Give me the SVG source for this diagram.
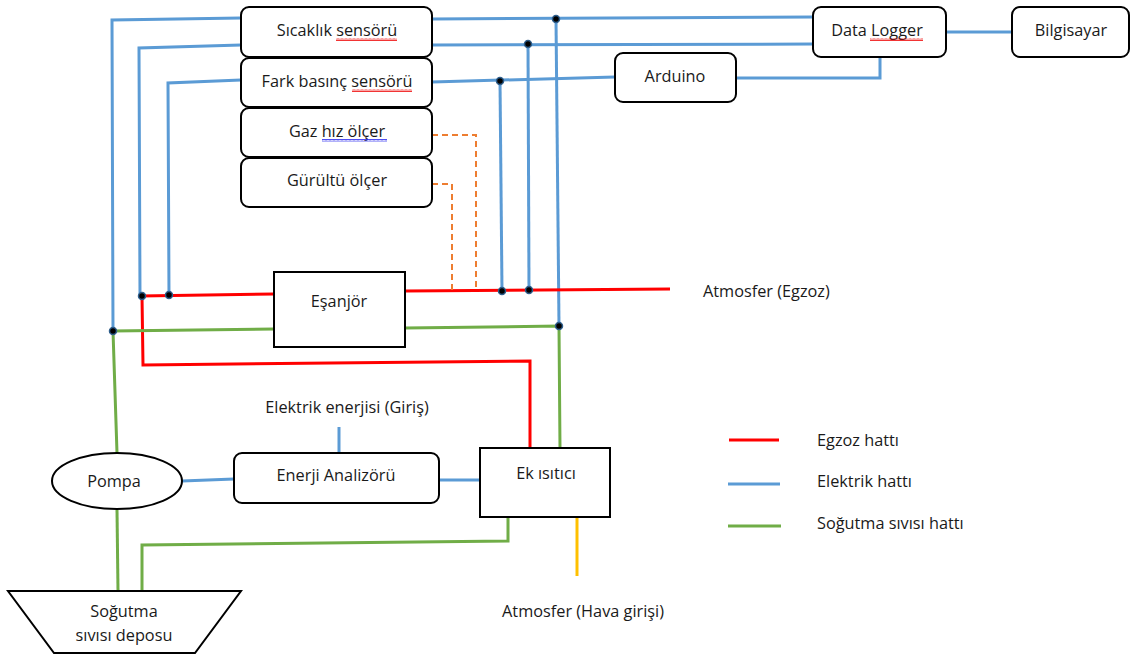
<svg xmlns="http://www.w3.org/2000/svg" width="1131" height="655" viewBox="0 0 1131 655">
<defs>
<style>
.box{fill:#fff;stroke:#000;stroke-width:2}
.t{font-family:"Open Sans","Liberation Sans",sans-serif;font-size:16.3px;fill:#1a1a1a;text-anchor:middle}
.tl{font-family:"Open Sans","Liberation Sans",sans-serif;font-size:16.3px;fill:#1a1a1a}
.b{fill:none;stroke:#5B9BD5;stroke-width:3}
.r{fill:none;stroke:#FF0000;stroke-width:3}
.g{fill:none;stroke:#70AD47;stroke-width:3}
.y{fill:none;stroke:#FFC000;stroke-width:3}
.o{fill:none;stroke:#ED7D31;stroke-width:2;stroke-dasharray:6 4}
.dot{fill:#000;stroke:#2E5E8C;stroke-width:1.5}
</style>
<pattern id="wr" width="4" height="3" patternUnits="userSpaceOnUse"><polyline points="0,2.5 1,0.5 2,2.5 3,0.5 4,2.5" fill="none" stroke="#E00" stroke-width="0.8"/></pattern>
<pattern id="wb" width="4" height="3" patternUnits="userSpaceOnUse"><polyline points="0,2.5 1,0.5 2,2.5 3,0.5 4,2.5" fill="none" stroke="#22E" stroke-width="0.8"/></pattern>
</defs>
<rect width="1131" height="655" fill="#fff"/>

<g id="connectors">
<polyline class="b" points="241,18 112,20 113,331"/>
<polyline class="b" points="241,45 139,48 140,296"/>
<polyline class="b" points="241,80 168,83 169,296"/>
<polyline class="b" points="432,19 813,17"/>
<polyline class="b" points="556,19 559,326"/>
<polyline class="b" points="432,45 813,44"/>
<polyline class="b" points="528,44 529,290"/>
<polyline class="b" points="432,82 615,77"/>
<polyline class="b" points="500,81 502,291"/>
<polyline class="b" points="736,78 880,78 880,57"/>
<polyline class="b" points="946,32 1012,32"/>
<polyline class="b" points="339,427 339,453"/>
<polyline class="b" points="182,481 234,479"/>
<polyline class="b" points="439,480 480,480"/>
<polyline class="r" points="140,296 274,294"/>
<polyline class="r" points="405,291 670,289"/>
<polyline class="r" points="142,296 143,365 530,361 530,448"/>
<polyline class="g" points="117,453 113,331 274,329"/>
<polyline class="g" points="405,328 559,326 560,448"/>
<polyline class="g" points="117,510 118,591"/>
<polyline class="g" points="142,591 142,545 508,541 508,517"/>
<polyline class="y" points="577,517 577,576"/>
<polyline class="o" points="432,135 476,135 476,291"/>
<polyline class="o" points="432,184 452,184 452,291"/>
<circle class="dot" cx="556" cy="19" r="3.5"/>
<circle class="dot" cx="528" cy="44" r="3.5"/>
<circle class="dot" cx="500" cy="81" r="3.5"/>
<circle class="dot" cx="142" cy="296" r="3.5"/>
<circle class="dot" cx="169" cy="295" r="3.5"/>
<circle class="dot" cx="502" cy="291" r="3.5"/>
<circle class="dot" cx="529" cy="290" r="3.5"/>
<circle class="dot" cx="113" cy="331" r="3.5"/>
<circle class="dot" cx="559" cy="326" r="3.5"/>
</g>

<g id="sicaklik">
<rect class="box" x="241" y="7" width="191" height="50" rx="8"/>
<text class="t" x="337" y="36">Sıcaklık sensörü</text>
<rect x="336" y="38" width="61" height="3" fill="url(#wr)"/>
</g>
<g id="fark">
<rect class="box" x="241" y="58" width="191" height="49" rx="8"/>
<text class="t" x="337" y="87">Fark basınç sensörü</text>
<rect x="352" y="89" width="60" height="3" fill="url(#wr)"/>
</g>
<g id="gaz">
<rect class="box" x="241" y="108" width="191" height="49" rx="8"/>
<text class="t" x="337" y="137">Gaz hız ölçer</text>
<rect x="322" y="139" width="65" height="3" fill="url(#wb)"/>
</g>
<g id="gurultu">
<rect class="box" x="241" y="158" width="191" height="49" rx="8"/>
<text class="t" x="337" y="186">Gürültü ölçer</text>
</g>
<g id="arduino">
<rect class="box" x="615" y="53" width="121" height="49" rx="8"/>
<text class="t" x="675" y="82">Arduino</text>
</g>
<g id="datalogger">
<rect class="box" x="813" y="7" width="133" height="50" rx="8"/>
<text class="t" x="877" y="36">Data Logger</text>
<rect x="870" y="38" width="53" height="3" fill="url(#wr)"/>
</g>
<g id="bilgisayar">
<rect class="box" x="1012" y="7" width="117" height="50" rx="8"/>
<text class="t" x="1071" y="36">Bilgisayar</text>
</g>
<g id="esanjor">
<rect class="box" x="274" y="272" width="131" height="75"/>
<text class="t" x="339" y="307">Eşanjör</text>
</g>
<g id="atm-egzoz">
<text class="tl" x="703" y="297">Atmosfer (Egzoz)</text>
</g>
<g id="elektrik-giris">
<text class="t" x="347" y="413">Elektrik enerjisi (Giriş)</text>
</g>
<g id="pompa">
<ellipse cx="117" cy="481" rx="65" ry="28" fill="#fff" stroke="#000" stroke-width="2"/>
<text class="t" x="114" y="487">Pompa</text>
</g>
<g id="enerji">
<rect class="box" x="234" y="453" width="205" height="50" rx="8"/>
<text class="t" x="336" y="481">Enerji Analizörü</text>
</g>
<g id="ekisitici">
<rect class="box" x="480" y="448" width="130" height="69"/>
<text class="t" x="546" y="479">Ek ısıtıcı</text>
</g>
<g id="depo">
<polygon points="8,591 241,591 195,653 54,653" fill="#fff" stroke="#000" stroke-width="2"/>
<text class="t" x="124" y="617">Soğutma</text>
<text class="t" x="124" y="641">sıvısı deposu</text>
</g>
<g id="atm-hava">
<text class="t" x="583" y="617">Atmosfer (Hava girişi)</text>
</g>
<g id="legend">
<line class="r" x1="729" y1="440" x2="779" y2="440"/>
<text class="tl" x="817" y="446">Egzoz hattı</text>
<line class="b" x1="728" y1="484" x2="780" y2="484"/>
<text class="tl" x="817" y="487">Elektrik hattı</text>
<line class="g" x1="728" y1="526" x2="781" y2="526"/>
<text class="tl" x="817" y="529">Soğutma sıvısı hattı</text>
</g>
</svg>
